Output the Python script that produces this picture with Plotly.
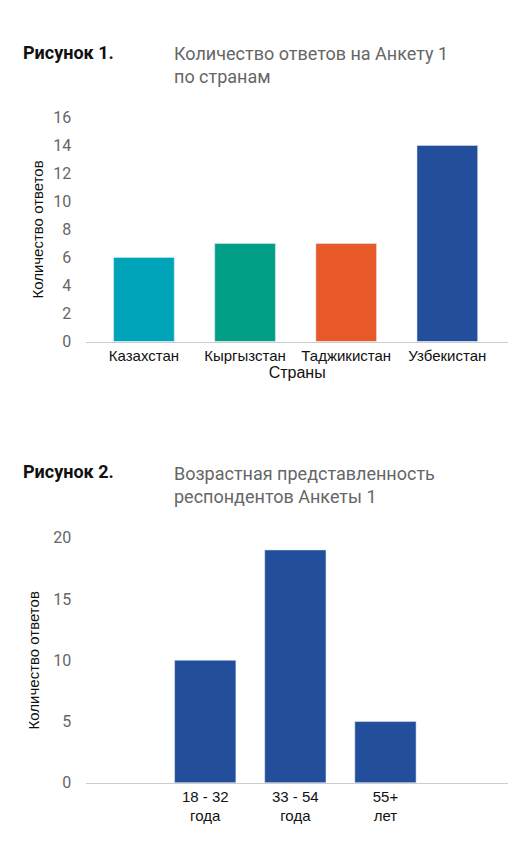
import plotly.graph_objects as go

countries = ["Казахстан", "Кыргызстан", "Таджикистан", "Узбекистан"]
country_counts = [6, 7, 7, 14]
country_colors = ["#00A4B8", "#009F86", "#E8592A", "#234E9B"]
age_groups = ["18 - 32<br>года", "33 - 54<br>года", "55+<br>лет"]
age_counts = [10, 19, 5]

H, W = 853, 527
S = 0.977
def py(p): return 1 - ((p - 17.7) / S) / H
def px(p): return ((p - 11.5) / S) / W

fig = go.Figure()
fig.add_bar(x=countries, y=country_counts, marker_color=country_colors, width=0.6,
            xaxis="x", yaxis="y", showlegend=False)
fig.add_bar(x=age_groups, y=age_counts, marker_color="#234E9B", width=0.68,
            xaxis="x2", yaxis="y2", showlegend=False)

tickf = dict(family="Roboto, Arial", size=16, color="#666")
catf = dict(family="Arial", size=15, color="#111")
fig.update_layout(
    width=W, height=H, margin=dict(l=0, r=0, t=0, b=0),
    plot_bgcolor="white", paper_bgcolor="white",
    font=dict(family="Roboto, Arial", color="#222"),
    xaxis=dict(domain=[px(88), px(500)], anchor="y", range=[-0.57, 3.6],
               showline=True, linecolor="#ccc", tickfont=catf,
               title=dict(text="Страны", font=dict(family="Arial", size=16, color="#111"), standoff=2)),
    yaxis=dict(domain=[py(342), py(118)], anchor="x", range=[0, 16], dtick=2,
               showgrid=False, zeroline=False, tickfont=tickf, ticklabelstandoff=14,
               title=dict(text="Количество ответов", font=dict(family="Arial", size=15, color="#111"), standoff=6)),
    xaxis2=dict(domain=[px(88), px(500)], anchor="y2", range=[-1.32, 3.36],
                showline=True, linecolor="#ccc", tickfont=catf, ticklabelstandoff=0),
    yaxis2=dict(domain=[py(783), py(538)], anchor="x2", range=[0, 20], dtick=5,
                showgrid=False, zeroline=False, tickfont=tickf, ticklabelstandoff=14,
                title=dict(text="Количество ответов", font=dict(family="Arial", size=15, color="#111"), standoff=10)),
)
ann = [
    ("<b>Рисунок 1.</b>", 24, 53, 18, "#111"),
    ("Количество ответов на Анкету 1<br>по странам", 172, 66, 18, "#666"),
    ("<b>Рисунок 2.</b>", 24, 472, 18, "#111"),
    ("Возрастная представленность<br>респондентов Анкеты 1", 172, 485, 18, "#666"),
]
for t, x, y, s, c in ann:
    fig.add_annotation(text=t, x=px(x), y=py(y), xref="paper", yref="paper",
                       xanchor="left", yanchor="middle", showarrow=False, align="left",
                       font=dict(family="Roboto, Arial", size=s, color=c))
fig.write_html("out.html")
